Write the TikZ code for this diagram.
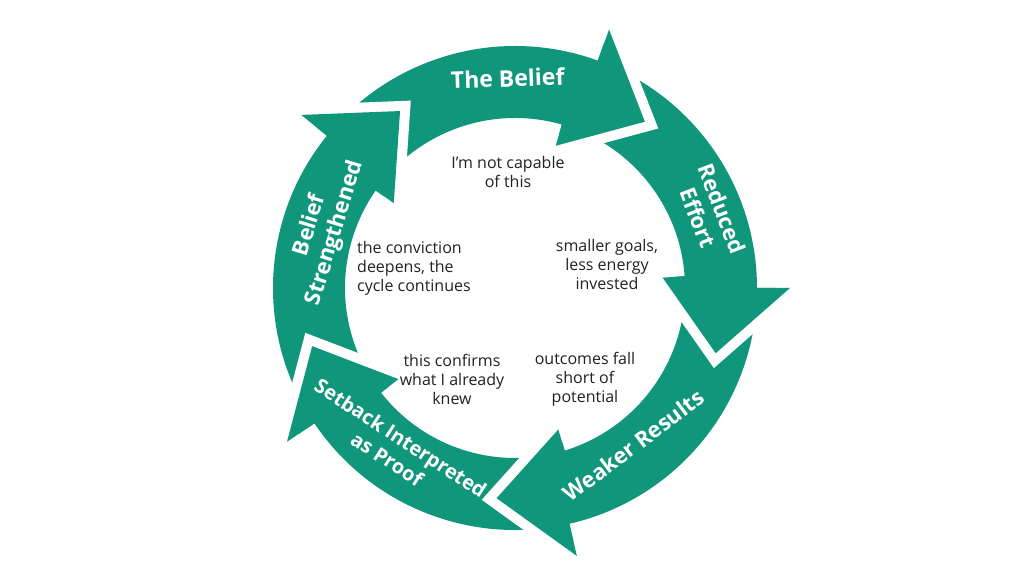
\documentclass[tikz,border=0pt]{standalone}
\usepackage{fontspec}
\setmainfont{Open Sans}
\usepackage{xcolor}
\usepackage{tikz}
\definecolor{cyc}{RGB}{16,150,122}
\definecolor{ink}{RGB}{34,34,34}

\begin{document}
\begin{tikzpicture}[x=1pt,y=1pt]
\tikzset{band/.style={fill=cyc},
gap/.style={draw=white,line width=20pt,line join=miter},
tag/.style={text=white,font=\fontsize{22}{26}\selectfont\bfseries,align=center,inner sep=0pt},
note/.style={text=ink,font=\fontsize{16}{19}\selectfont,align=center,inner sep=0pt}}
\path[fill=white,use as bounding box] (-515,-284) rectangle (509,288);
\foreach \t/\p in {123/196,52/123,-18/52,-95/-18,-164/-95}{
\fill[band] (\p+17:242) arc[start angle=\p+17,end angle=\t+18,radius=242] -- (\t+18:275) -- (\t:211)
 -- (\t+22:148) -- (\t+22:170) arc[start angle=\t+22,end angle=\p+17,radius=170] -- cycle;}
\foreach \t in {123,52,-18,-95,-164}{
\draw[gap] (\t+18:275) -- (\t:211) -- (\t+22:148);
\fill[band] (\t+18:242) -- (\t+18:275) -- (\t:211) -- (\t+22:148) -- (\t+22:170) -- cycle;}
\node[tag,rotate=2,font=\fontsize{23}{27}\selectfont\bfseries] (belief) at (92:210){The Belief};
\node[tag,rotate=-69] (effort) at (21:209){Reduced\\Effort};
\node[tag,rotate=37] (results) at (-53:197){Weaker Results};
\node[tag,rotate=-33,font=\fontsize{20}{25}\selectfont\bfseries] (proof) at (-127:201){Setback Interpreted\\as Proof};
\node[tag,rotate=73] (stronger) at (163:201){Belief\\Strengthened};
\node[note] (capable) at (-7,116){I'm not capable\\of this};
\node[note] (goals) at (92,23){smaller goals,\\less energy\\invested};
\node[note,anchor=west,align=left] (deepens) at (-158,20){the conviction\\deepens, the\\cycle continues};
\node[note] (confirms) at (-63,-91){this confirms\\what I already\\knew};
\node[note] (falls) at (70,-91){outcomes fall\\short of\\potential};
\end{tikzpicture}
\end{document}
